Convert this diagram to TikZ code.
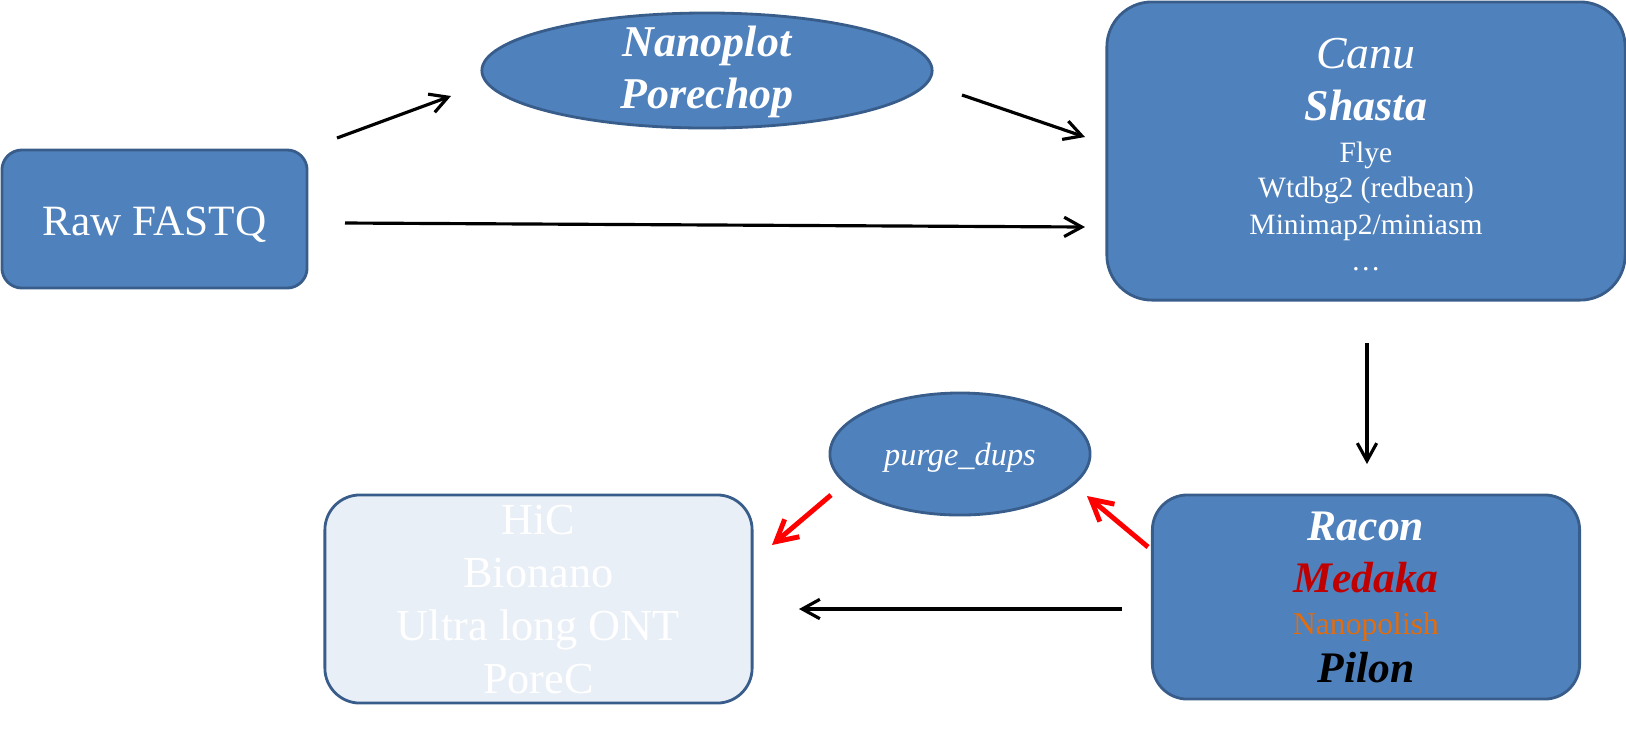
\documentclass[tikz,border=0pt]{standalone}
\usepackage{fontspec}
\setmainfont{Liberation Serif}
\usetikzlibrary{arrows.meta,shapes}

\definecolor{toolblue}{HTML}{4F81BD}
\definecolor{tooledge}{HTML}{385D8A}
\definecolor{palefill}{HTML}{E9EFF7}
\definecolor{medakared}{HTML}{C00000}
\definecolor{polishorange}{HTML}{E46C0A}

\begin{document}
\begin{tikzpicture}[x=0.01cm,y=-0.01cm,->,>={Straight Barb[length=5pt,width=5.5pt]},line width=0.9pt]
  \tikzset{tool box/.style={rectangle,fill=toolblue,draw=tooledge,line width=0.8pt,text=white,inner sep=0pt,align=center},
           tool ellipse/.style={ellipse,fill=toolblue,draw=tooledge,line width=0.8pt,text=white,inner sep=0pt,align=center},
           pale box/.style={tool box,fill=palefill},
           fixed lines/.style={font={\fontsize{#1}{10}\selectfont\lineskiplimit=-20pt\relax}}}

  \useasboundingbox (0,0) rectangle (1626,732);

  \node[tool box,rounded corners=0.2cm,minimum width=3.05cm,minimum height=1.38cm,
        font=\fontsize{12.3}{14}\selectfont,text height=9.1pt,text depth=0pt] at (154.5,219) (raw) {Raw FASTQ};
  \node[tool ellipse,minimum width=4.5cm,minimum height=1.15cm,
        font={\fontsize{12.5}{14.8}\selectfont\bfseries\itshape\lineskiplimit=-20pt\relax},
        text height=21.6pt,text depth=-2pt] at (707,70.5) (nano) {Nanoplot\\Porechop};
  \node[tool box,rounded corners=0.45cm,minimum width=5.18cm,minimum height=2.98cm,
        fixed lines=8.4,text height=67.7pt,text depth=0pt] at (1366,151) (canu)
       {{\fontsize{13}{15}\selectfont\itshape Canu}\\[4.8pt]
        {\fontsize{12.5}{15}\selectfont\bfseries\itshape Shasta}\\[1.7pt]
        Flye\\
        Wtdbg2 (redbean)\\[0.5pt]
        Minimap2/miniasm\\[0.2pt]
        \ldots};
  \node[tool box,rounded corners=0.35cm,minimum width=4.27cm,minimum height=2.04cm,
        fixed lines=9,text height=48.4pt,text depth=0pt] at (1366,597) (racon)
       {{\fontsize{12.4}{15}\selectfont\bfseries\itshape Racon}\\[4.8pt]
        {\fontsize{12.4}{15}\selectfont\bfseries\itshape\color{medakared}Medaka}\\[2.2pt]
        {\color{polishorange}Nanopolish}\\[3.4pt]
        {\fontsize{12.4}{15}\selectfont\bfseries\itshape\color{black}Pilon}};
  \node[tool ellipse,minimum width=2.6cm,minimum height=1.22cm,
        font=\fontsize{9.2}{11}\selectfont\itshape,text height=6.3pt,text depth=0pt] at (960,454) (purge) {purge\_dups};
  \node[pale box,rounded corners=0.35cm,minimum width=4.27cm,minimum height=2.08cm,
        font={\fontsize{12.6}{15}\selectfont\lineskiplimit=-20pt\relax},text height=53.5pt,text depth=0pt] at (538.5,599) (hic)
       {HiC\\Bionano\\Ultra long ONT\\PoreC};

  \coordinate (raw up)     at ( 337,138);
  \coordinate (nano in)    at ( 451, 96);
  \coordinate (nano out)   at ( 962, 95);
  \coordinate (canu in a)  at (1085,137);
  \coordinate (raw right)  at ( 345,223);
  \coordinate (canu in b)  at (1085,227);
  \coordinate (canu down)  at (1367,343);
  \coordinate (racon in)   at (1367,464);
  \coordinate (racon left) at (1122,609);
  \coordinate (hic in a)   at ( 799,609);
  \coordinate (racon up)   at (1148,547);
  \coordinate (purge in)   at (1087,496);
  \coordinate (purge out)  at ( 831,495);
  \coordinate (hic in b)   at ( 772,545);

  \path (raw up) edge (nano in)
        (nano out) edge (canu in a)
        (raw right) edge (canu in b)
        (canu down) edge (racon in)
        (racon left) edge (hic in a);
  \path[red,line width=1.4pt,>={Straight Barb[length=6pt,width=6.5pt]}]
        (racon up) edge (purge in)
        (purge out) edge (hic in b);
\end{tikzpicture}
\end{document}
